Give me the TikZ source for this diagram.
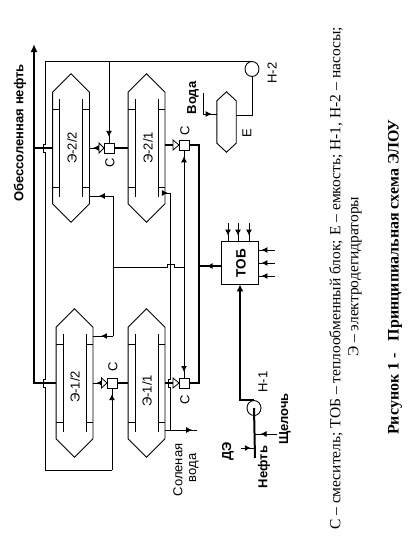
\documentclass[tikz,border=0pt]{standalone}
\usepackage{fontspec}
\setmainfont{Liberation Serif}
\setsansfont{Liberation Sans}
\usetikzlibrary{arrows.meta,decorations.markings,shapes.geometric,calc}
\tikzset{
  x=1pt,y=-1pt,
  thinline/.style={line width=0.9pt},
  thickline/.style={line width=2pt},
  medline/.style={line width=1.4pt},
  flow/.style={postaction={decorate},decoration={markings,mark=at position #1 with {\arrow{Latex[length=6pt,width=6pt]}}}},
  mixer/.style={draw,fill=white,line width=0.9pt,minimum width=10pt,minimum height=10pt,inner sep=0pt},
  pump/.style={draw,ellipse,line width=0.9pt,minimum width=14pt,minimum height=15pt,inner sep=0pt},
  hexframe/.style={minimum width=36.5pt,minimum height=148pt,inner sep=0pt},
  tag/.style={rotate=90,font=\sffamily\fontsize{13}{13}\selectfont},
  btag/.style={rotate=90,font=\sffamily\bfseries\fontsize{13}{13}\selectfont},
  valve/.style={draw,line width=0.8pt,fill=white},
  caption/.style={rotate=90,anchor=west,inner sep=0pt,font=\fontsize{15.5}{15.5}\selectfont},
}
% hexagonal vessel: name, centre x, centre y
\newcommand{\vessel}[3]{%
  \node[hexframe] (#1) at (#2,#3) {};
  \draw[thinline] (#1.north) -- ($(#1.north east)+(0,18.5)$) -- ($(#1.south east)+(0,-18.5)$) -- (#1.south)
     -- ($(#1.south west)+(0,-18.5)$) -- ($(#1.north west)+(0,18.5)$) -- cycle;
  \draw[thinline] ($(#1.north west)+(7,25)$) -- ($(#1.south west)+(7,-25)$);
  \draw[thinline] ($(#1.north east)+(-7,25)$) -- ($(#1.south east)+(-7,-25)$);
  \foreach \ss in {-39,39}{%
    \draw[thinline] (#2-18.25,#3+\ss) -- (#2-11.25,#3+\ss);
    \draw[thinline] (#2+11.25,#3+\ss) -- (#2+18.25,#3+\ss);
  }
}
\begin{document}
\begin{tikzpicture}
\useasboundingbox (0,0) rectangle (415,544);
\fill[white] (0,0) rectangle (415,544);

% vessels
\vessel{e22}{71}{148}
\vessel{e21}{146.5}{148}
\vessel{e12}{74.5}{383}
\vessel{e11}{146.5}{383}
\node[tag] at (72,148) {Э-2/2};
\node[tag] at (148,148) {Э-2/1};
\node[tag] at (75,387) {Э-1/2};
\node[tag] at (147,391) {Э-1/1};

% mixers
\node[mixer] (m22) at (109,148) {};
\node[mixer] (m21) at (184,145) {};
\node[mixer] (m12) at (112,383) {};
\node[mixer] (m11) at (184,383) {};

% pumps, tank, block
\node[pump] (n2) at (252,69) {};
\node[pump] (n1) at (254,408) {};
\node[draw,thinline,minimum width=37pt,minimum height=43pt,inner sep=0pt] (tob) at (239.5,262.5) {};
\node[rotate=90,font=\sffamily\bfseries\fontsize{13.5}{13.5}\selectfont] at (241,263) {ТОБ};
\node[minimum width=19pt,minimum height=60pt,inner sep=0pt] (tank) at (226.5,122) {};
\draw[thinline] (tank.north) -- ($(tank.north east)+(0,9)$) -- ($(tank.south east)+(0,-9)$) -- (tank.south)
  -- ($(tank.south west)+(0,-9)$) -- ($(tank.north west)+(0,9)$) -- cycle;

% free ends
\coordinate (outTop) at (34,44);
\coordinate (corner1) at (34,383);
\coordinate (w1) at (203.3,93);
\coordinate (w2) at (203.3,114);
\coordinate (saltEnd) at (197,430);
\coordinate (nb) at (255,458);

% product line
\draw[thickline,-{Latex[length=8pt,width=7pt]}] (e12.west |- m12) -- (corner1) -- (outTop);
\draw[thickline] (e22.west |- m22) -- (34,148);

% mixer links
\draw[thickline] (m22.east) -- (e21.west |- m22);
\draw[thickline] (m12.east) -- (e11.west |- m12);
\draw[thickline,flow=0.65] (tob.west |- 0,266) -- (199,266);
\draw[thickline] (m21.east) -- (199,145) -- (199,383) -- (m11.east);
\draw[medline] (e21.east |- m21) -- (179,145);
\draw[medline] (e11.east |- m11) -- (179,383);
\draw[thinline,flow=0.75] (m22.west) -- (e22.east |- m22);
\draw[thinline,flow=0.75] (m12.west) -- (e12.east |- m12);

% valves
\draw[valve] (99,143) -- (104,148) -- (99,153) -- cycle;
\draw[valve] (101.5,378) -- (107,383) -- (101.5,388) -- cycle;
\draw[valve] (173,140) -- (179,145) -- (173,150) -- cycle;
\draw[valve] (173,378) -- (179,383) -- (173,388) -- cycle;

% wash water loop
\draw[thinline] (n2.north) -- (n2.north |- 0,61) -- (45,61) -- (45,144) -- (43,144) -- (43,152) -- (45,152)
  -- (45,379) -- (43,379) -- (43,387) -- (45,387) -- (45,470) -- (112,470);
\draw[thinline,flow=0.93] (m22.north |- 0,61) -- (m22.north);
\draw[thinline,flow=0.93] (112,470) -- (m12.south);

% recycle between stages
\draw[thinline,flow=0.6] (113,196) -- (e22.east |- 0,196);
\draw[thinline,flow=0.6] (113,336) -- (e12.east |- 0,336);
\draw[thinline] (113,196) -- (113,336);
\draw[thinline] (113,267) -- (167,267) -- (167,264) -- (174,264) -- (174,267) -- (184,267);
\draw[thinline,flow=0.95] (184,267) -- (m21.south);
\draw[thinline,flow=0.95] (184,267) -- (m11.north);

% brine
\draw[thinline,flow=0.6] (e21.east |- 0,193) -- (170,193);
\draw[thinline] (170,193) -- (170,379) -- (168,379) -- (168,387) -- (170,387) -- (170,430);
\draw[thinline,flow=0.85] (e11.east |- 0,430) -- (saltEnd);

% water to tank, tank to pump
\draw[thinline,flow=0.85] (w1) -- (w2) -- (tank.west |- w2);
\draw[thinline] (tank.east |- 0,115) -- (n2.south |- 0,115) -- (n2.south);

% feed
\draw[thickline,-{Latex[length=7pt,width=7pt]}] (254,400) -- (240,400) -- (tob.south -| 240,0);
\draw[thickline] (n1.center) -- (nb);

% arrows into block
\foreach \xx/\nm in {228/a,238/b,249/c}{
  \coordinate (t\nm) at (\xx,223);
  \draw[thinline,flow=0.7] (t\nm) -- (\xx,241);
}
\foreach \yy/\nm in {250/a,263/b,276/c}{
  \coordinate (r\nm) at (275,\yy);
  \draw[thinline,flow=0.8] (r\nm) -- (258,\yy);
}
\coordinate (de) at (241,448);
\coordinate (sh) at (277,434);
\draw[thinline,flow=0.7] (de) -- (255,448);
\draw[thinline,flow=0.75] (sh) -- (255,434);

% labels
\node[btag] at (20,133) {Обессоленная нефть};
\node[tag] at (110,163) {С};
\node[tag] at (185,131) {С};
\node[tag] at (113,367) {С};
\node[tag] at (185,400) {С};
\node[btag] at (193,98) {Вода};
\node[tag] at (247,133) {Е};
\node[tag] at (272,73) {Н-2};
\node[tag] at (263,382) {Н-1};
\node[tag] at (178,470) {Соленая};
\node[tag] at (194,468) {вода};
\node[btag] at (228,451) {ДЭ};
\node[btag] at (264,467) {Нефть};
\node[btag] at (285,419) {Щелочь};

% caption
\node[caption] at (336,530) {С – смеситель; ТОБ – теплообменный блок; Е – емкость; Н-1, Н-2 – насосы;};
\node[caption] at (355,357) {Э – электродегидраторы};
\node[caption,font=\bfseries\fontsize{16}{16}\selectfont] at (395,435) {Рисунок 1 -\ \ \ Принципиальная схема ЭЛОУ};
\end{tikzpicture}
\end{document}
